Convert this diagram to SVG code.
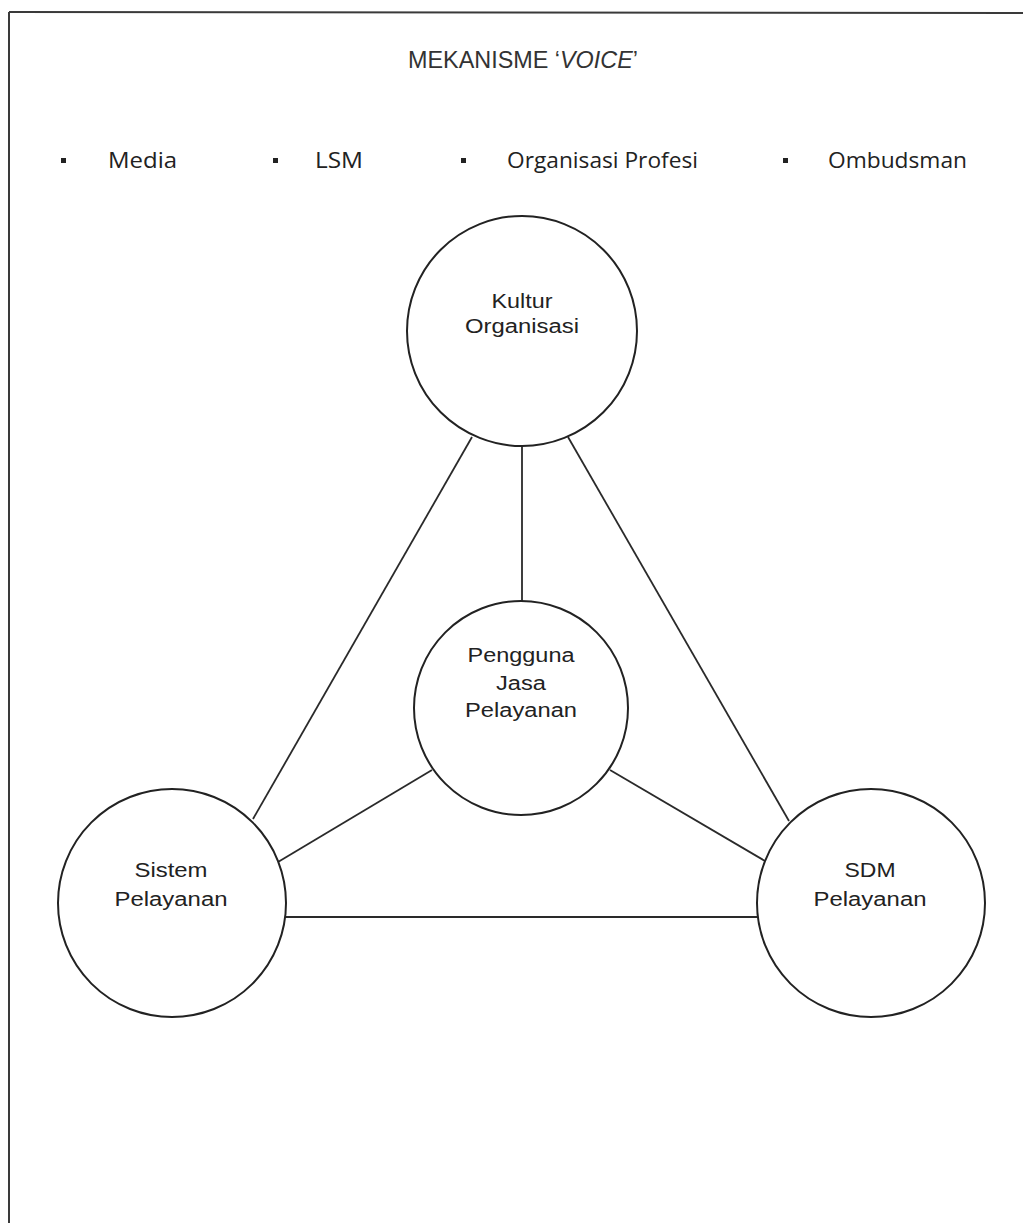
<svg xmlns="http://www.w3.org/2000/svg" width="1023" height="1223" viewBox="0 0 1023 1223">
<style>
.frame{stroke:#3a3a3a;stroke-width:2;fill:none}
.node{fill:#fff;stroke:#222;stroke-width:2}
.conn line{stroke:#2a2a2a;stroke-width:1.8}
.lbl{font-family:"Liberation Sans",Arial,sans-serif;font-size:20px;fill:#222;text-anchor:middle}
.title{font-family:"Liberation Sans",Arial,sans-serif;font-size:23px;fill:#333;text-anchor:middle}
.item{font-family:"Open Sans","Liberation Sans",sans-serif;font-size:21px;fill:#222}
.bullet{fill:#222}
</style>
<rect width="1023" height="1223" fill="#fff"/>
<g id="frame">
<line class="frame" x1="9" y1="12" x2="1023" y2="13"/>
<line class="frame" x1="9" y1="12" x2="9" y2="1223"/>
</g>
<g id="title">
<text class="title" x="523" y="68" textLength="230" lengthAdjust="spacingAndGlyphs">MEKANISME ‘<tspan font-style="italic">VOICE</tspan>’</text>
</g>
<g id="voice-list">
<rect class="bullet" x="61" y="158" width="5" height="5"/>
<text class="item" x="108" y="168" textLength="69" lengthAdjust="spacingAndGlyphs">Media</text>
<rect class="bullet" x="273" y="158" width="5" height="5"/>
<text class="item" x="315" y="168" textLength="48" lengthAdjust="spacingAndGlyphs">LSM</text>
<rect class="bullet" x="461" y="158" width="5" height="5"/>
<text class="item" x="507" y="168" textLength="191" lengthAdjust="spacingAndGlyphs">Organisasi Profesi</text>
<rect class="bullet" x="783" y="158" width="5" height="5"/>
<text class="item" x="828" y="168" textLength="139" lengthAdjust="spacingAndGlyphs">Ombudsman</text>
</g>
<g id="connectors" class="conn">
<line x1="472" y1="437" x2="253" y2="819"/>
<line x1="568" y1="437" x2="789" y2="821"/>
<line x1="522" y1="446" x2="522" y2="601"/>
<line x1="432" y1="770" x2="278" y2="862"/>
<line x1="610" y1="770" x2="765" y2="861"/>
<line x1="285" y1="917" x2="758" y2="917"/>
</g>
<g id="kultur">
<circle class="node" cx="522" cy="331" r="115"/>
<text class="lbl" x="522" y="308" textLength="61" lengthAdjust="spacingAndGlyphs">Kultur</text>
<text class="lbl" x="522" y="333" textLength="114" lengthAdjust="spacingAndGlyphs">Organisasi</text>
</g>
<g id="pengguna">
<circle class="node" cx="521" cy="708" r="107"/>
<text class="lbl" x="521" y="662" textLength="107" lengthAdjust="spacingAndGlyphs">Pengguna</text>
<text class="lbl" x="521" y="690" textLength="50" lengthAdjust="spacingAndGlyphs">Jasa</text>
<text class="lbl" x="521" y="717" textLength="112" lengthAdjust="spacingAndGlyphs">Pelayanan</text>
</g>
<g id="sistem">
<circle class="node" cx="172" cy="903" r="114"/>
<text class="lbl" x="171" y="877" textLength="73" lengthAdjust="spacingAndGlyphs">Sistem</text>
<text class="lbl" x="171" y="906" textLength="113" lengthAdjust="spacingAndGlyphs">Pelayanan</text>
</g>
<g id="sdm">
<circle class="node" cx="871" cy="903" r="114"/>
<text class="lbl" x="870" y="877" textLength="51" lengthAdjust="spacingAndGlyphs">SDM</text>
<text class="lbl" x="870" y="906" textLength="113" lengthAdjust="spacingAndGlyphs">Pelayanan</text>
</g>
</svg>
